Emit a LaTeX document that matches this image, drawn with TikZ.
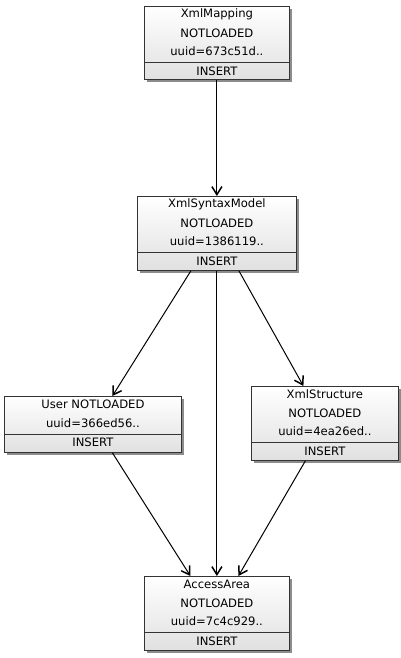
\documentclass[tikz,border=0pt]{standalone}
\usepackage{fontspec}
\setmainfont{DejaVu Sans}
\usetikzlibrary{arrows.meta,shadows,calc}
\begin{document}
\begin{tikzpicture}[x=1pt,y=-1pt,
  box/.style={draw=black!80, line width=0.8pt, anchor=north west, inner sep=0pt,
    top color=white, bottom color=black!12,
    drop shadow={shadow xshift=3pt, shadow yshift=-3pt, fill=black!45, opacity=1}},
  lbl/.style={font=\fontsize{11.6}{13}\selectfont, inner sep=0pt, anchor=center},
  divl/.style={draw=black!80, line width=0.8pt},
  arr/.style={draw=black, line width=1pt, -{Straight Barb[length=8pt,width=10pt,line width=1.5pt]}}]
\useasboundingbox (0,0) rectangle (401,658);
% XmlMapping
\node[box, minimum width=145pt, minimum height=73pt] (m) at (144,6) {};
\node[lbl] (m1) at ($(m.north)+(0,8.5)$) {XmlMapping};
\node[lbl] (m2) at ($(m.north)+(0,27)$) {NOTLOADED};
\node[lbl] (m3) at ($(m.north)+(0,45.5)$) {uuid=673c51d..};
\draw[divl] ($(m.north west)+(0,56.5)$) -- ($(m.north east)+(0,56.5)$);
\node[lbl] (m4) at ($(m.north)+(0,65)$) {INSERT};
% XmlSyntaxModel
\node[box, minimum width=159pt, minimum height=74pt] (s) at (137,196) {};
\node[lbl] (s1) at ($(s.north)+(0,8.5)$) {XmlSyntaxModel};
\node[lbl] (s2) at ($(s.north)+(0,27)$) {NOTLOADED};
\node[lbl] (s3) at ($(s.north)+(0,45.5)$) {uuid=1386119..};
\draw[divl] ($(s.north west)+(0,56.5)$) -- ($(s.north east)+(0,56.5)$);
\node[lbl] (s4) at ($(s.north)+(0,65)$) {INSERT};
% User
\node[box, minimum width=177pt, minimum height=56pt] (u) at (4,396) {};
\node[lbl] (u1) at ($(u.north)+(0,8.5)$) {User NOTLOADED};
\node[lbl] (u2) at ($(u.north)+(0,27)$) {uuid=366ed56..};
\draw[divl] ($(u.north west)+(0,38)$) -- ($(u.north east)+(0,38)$);
\node[lbl] (u4) at ($(u.north)+(0,46.5)$) {INSERT};
% XmlStructure
\node[box, minimum width=147pt, minimum height=74pt] (x) at (251,386) {};
\node[lbl] (x1) at ($(x.north)+(0,8.5)$) {XmlStructure};
\node[lbl] (x2) at ($(x.north)+(0,27)$) {NOTLOADED};
\node[lbl] (x3) at ($(x.north)+(0,45.5)$) {uuid=4ea26ed..};
\draw[divl] ($(x.north west)+(0,56.5)$) -- ($(x.north east)+(0,56.5)$);
\node[lbl] (x4) at ($(x.north)+(0,65)$) {INSERT};
% AccessArea
\node[box, minimum width=145pt, minimum height=74pt] (a) at (144,576) {};
\node[lbl] (a1) at ($(a.north)+(0,8.5)$) {AccessArea};
\node[lbl] (a2) at ($(a.north)+(0,27)$) {NOTLOADED};
\node[lbl] (a3) at ($(a.north)+(0,45.5)$) {uuid=7c4c929..};
\draw[divl] ($(a.north west)+(0,56.5)$) -- ($(a.north east)+(0,56.5)$);
\node[lbl] (a4) at ($(a.north)+(0,65)$) {INSERT};
% connectors
\draw[arr] (m.south) -- (s.north);
\draw[arr] ($(s.south)+(-26,0)$) -- ($(u.north)+(19.5,0)$);
\draw[arr] (s.south) -- (a.north);
\draw[arr] ($(s.south)+(22,0)$) -- ($(x.north)+(-21.5,0)$);
\draw[arr] ($(u.south)+(19.5,0)$) -- ($(a.north)+(-26.5,0)$);
\draw[arr] ($(x.south)+(-19.5,0)$) -- ($(a.north)+(21.5,0)$);
\end{tikzpicture}
\end{document}
